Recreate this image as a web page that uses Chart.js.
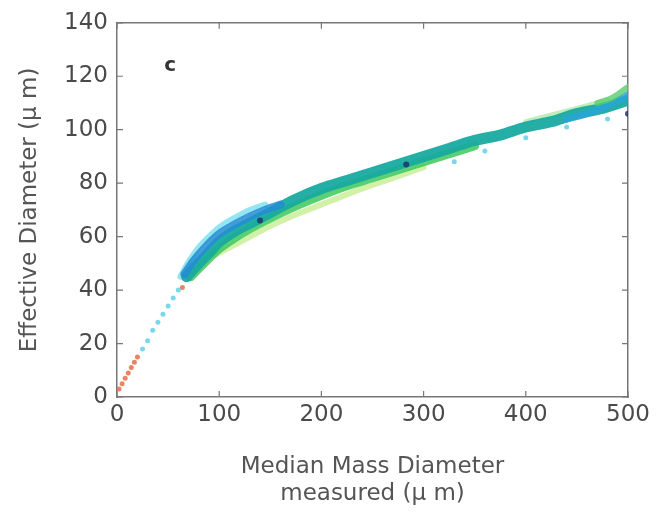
<!DOCTYPE html>
<html>
<head>
<meta charset="utf-8">
<script src="https://cdn.jsdelivr.net/npm/chart.js@4.4.0/dist/chart.umd.min.js"></script>
<style>
  html, body { margin: 0; padding: 0; background: #fff; }
  #wrap { width: 658px; height: 513px; }
</style>
</head>
<body>
<div id="wrap"><canvas id="c" width="658" height="513"></canvas></div>
<script>
// ---- data ----
const xTickValues = [0, 100, 200, 300, 400, 500];
const yTickValues = [0, 20, 40, 60, 80, 100, 120, 140];

// small scattered points
const redX = [2, 5, 8, 11, 14, 17, 20, 64];
const redY = [3, 5, 7, 9, 11, 13, 15, 41];

const dashX = [25, 30, 35, 40, 45, 50, 55, 60, 330, 360, 400, 440, 480];
const dashY = [18, 21, 25, 28, 31, 34, 37, 40, 88, 92, 97, 101, 104];

const navyX = [140, 283, 500];
const navyY = [66, 87, 106];

// band tracks (upper cyan edge, blue, main teal, lower green, lowest light green)
const cyanX = [62, 70, 80, 90, 100, 115, 130, 145];
const cyanY = [45, 50.5, 56, 60, 63.5, 67, 70, 72];

const blueX = [66, 75, 85, 100, 115, 130, 145, 160];
const blueY = [46, 51, 55.5, 61, 64.5, 67.5, 70, 72];

const tealX = [68, 80, 90, 100, 115, 130, 150, 175, 200, 225, 250, 275, 300, 325, 350, 375, 400, 425, 450, 475, 500];
const tealY = [45, 50, 54, 58, 62, 65, 69, 74, 78, 81, 84, 87, 90, 93, 96, 98, 101, 103, 106, 108, 111];

const greenX = [72, 85, 100, 115, 130, 150, 175, 200, 225, 250, 275, 300, 325, 350];
const greenY = [45, 50, 55.5, 59.5, 63, 67, 71.5, 75.5, 79, 82, 85, 88, 91, 94];

const limeX = [95, 120, 150, 180, 210, 240, 270, 300];
const limeY = [53, 58, 64, 69, 73.5, 78, 82, 86];

const upperLimeX = [400, 430, 460, 480];
const upperLimeY = [103, 106, 109, 111];

const endBlueX = [440, 460, 480, 500];
const endBlueY = [104, 106, 109, 113];

const endGreenX = [470, 485, 500];
const endGreenY = [110, 112, 116];

function pts(xs, ys) { return xs.map((x, i) => ({ x: x, y: ys[i] })); }

const tickFont = { family: 'DejaVu Sans', size: 23 };
const tickColor = '#4a4a4a';

const frameTicks = {
  id: 'frameTicks',
  afterDatasetsDraw(chart) {
    const { ctx, chartArea: a, scales } = chart;
    ctx.save();
    ctx.strokeStyle = '#777';
    ctx.lineWidth = 1.2;
    const L = 6;
    xTickValues.forEach(v => {
      const px = scales.x.getPixelForValue(v);
      ctx.beginPath();
      ctx.moveTo(px, a.bottom); ctx.lineTo(px, a.bottom - L);
      ctx.moveTo(px, a.top); ctx.lineTo(px, a.top + L);
      ctx.stroke();
    });
    yTickValues.forEach(v => {
      const py = scales.y.getPixelForValue(v);
      ctx.beginPath();
      ctx.moveTo(a.left, py); ctx.lineTo(a.left + L, py);
      ctx.moveTo(a.right, py); ctx.lineTo(a.right - L, py);
      ctx.stroke();
    });
    ctx.fillStyle = '#333';
    ctx.font = 'bold 20px "DejaVu Sans"';
    ctx.textAlign = 'center';
    ctx.textBaseline = 'middle';
    ctx.fillText('c', scales.x.getPixelForValue(52), scales.y.getPixelForValue(124));
    ctx.restore();
  }
};

function band(label, xs, ys, color, w) {
  return {
    label: label, data: pts(xs, ys), showLine: true,
    borderColor: color, borderWidth: w, borderCapStyle: 'round', borderJoinStyle: 'round',
    cubicInterpolationMode: 'monotone',
    pointRadius: 0, pointHoverRadius: 0, backgroundColor: color
  };
}
function dots(label, xs, ys, color, r) {
  return {
    label: label, data: pts(xs, ys), showLine: false,
    backgroundColor: color, borderWidth: 0,
    pointRadius: r, pointHoverRadius: r
  };
}

new Chart(document.getElementById('c'), {
  type: 'scatter',
  data: {
    datasets: [
      dots('navy', navyX, navyY, 'rgba(30,50,110,0.85)', 3),
      band('endGreen', endGreenX, endGreenY, 'rgba(90,205,110,0.8)', 6),
      band('endBlue', endBlueX, endBlueY, 'rgba(40,165,215,0.85)', 7),
      band('blue', blueX, blueY, 'rgba(35,140,210,0.85)', 8),
      band('teal', tealX, tealY, 'rgba(25,170,160,0.95)', 11),
      band('upperLime', upperLimeX, upperLimeY, 'rgba(150,225,140,0.6)', 5),
      band('cyan', cyanX, cyanY, 'rgba(120,225,240,0.8)', 6),
      band('green', greenX, greenY, 'rgba(60,200,90,0.85)', 9),
      band('lime', limeX, limeY, 'rgba(180,232,110,0.6)', 6),
      dots('dash', dashX, dashY, 'rgba(90,205,230,0.8)', 2.5),
      dots('red', redX, redY, 'rgba(230,110,70,0.85)', 2.5)
    ]
  },
  plugins: [frameTicks],
  options: {
    responsive: false,
    animation: false,
    events: [],
    layout: { padding: { top: 22, right: 30, left: 0, bottom: 0 } },
    plugins: { legend: { display: false }, tooltip: { enabled: false } },
    scales: {
      x: {
        type: 'linear', position: 'bottom', min: 0, max: 500,
        afterBuildTicks: s => { s.ticks = xTickValues.map(v => ({ value: v })); },
        afterFit: s => { s.height = 116; },
        grid: { display: true, drawOnChartArea: false, drawTicks: false },
        border: { display: true, color: '#777', width: 1.5 },
        ticks: { font: tickFont, color: tickColor, padding: 4, maxRotation: 0 },
        title: {
          display: true, text: ['Median Mass Diameter', 'measured (\u03bc m)'],
          font: { family: 'DejaVu Sans', size: 23, lineHeight: 1.17 }, color: '#555',
          padding: { top: 0, bottom: 6 }
        }
      },
      y: {
        type: 'linear', position: 'left', min: 0, max: 140,
        afterBuildTicks: s => { s.ticks = yTickValues.map(v => ({ value: v })); },
        afterFit: s => { s.width = 117; },
        grid: { display: true, drawOnChartArea: false, drawTicks: false },
        border: { display: true, color: '#777', width: 1.5 },
        ticks: { font: tickFont, color: tickColor, padding: 9 },
        title: {
          display: true, text: 'Effective Diameter (\u03bc m)',
          font: { family: 'DejaVu Sans', size: 23, lineHeight: 1.2 }, color: '#555',
          padding: { top: 16, bottom: 0 }
        }
      },
      x2: {
        type: 'linear', position: 'top', min: 0, max: 500,
        afterFit: s => { s.height = 0; },
        grid: { display: true, drawOnChartArea: false, drawTicks: false },
        border: { display: true, color: '#777', width: 1.5 },
        ticks: { display: false }
      },
      y2: {
        type: 'linear', position: 'right', min: 0, max: 140,
        afterFit: s => { s.width = 0; },
        grid: { display: true, drawOnChartArea: false, drawTicks: false },
        border: { display: true, color: '#777', width: 1.5 },
        ticks: { display: false }
      }
    }
  }
});
</script>
</body>
</html>
